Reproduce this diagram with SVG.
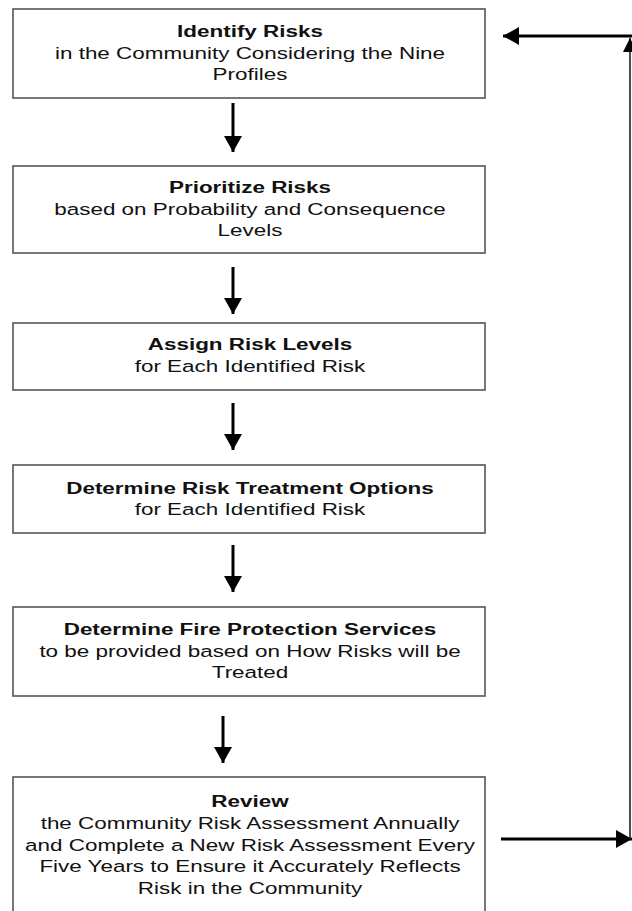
<svg xmlns="http://www.w3.org/2000/svg" width="632" height="911" viewBox="0 0 632 911">
  <defs>
    <style>
      .box { fill: #ffffff; stroke: #555555; stroke-width: 1.6; }
      .t { font-family: "Liberation Sans", Arial, sans-serif; font-size: 17px; fill: #111111; text-anchor: middle; }
      .b { font-weight: bold; }
      .arr { stroke: #000000; stroke-width: 3; fill: none; }
      .thin { stroke: #222222; stroke-width: 1.6; fill: none; }
    </style>
    <marker id="ah" viewBox="0 0 16 18" refX="16" refY="9" markerWidth="16" markerHeight="18" markerUnits="userSpaceOnUse" orient="auto">
      <path d="M0,0 L16,9 L0,18 Z" fill="#000000"/>
    </marker>
    <marker id="ahs" viewBox="0 0 14 14" refX="14" refY="7" markerWidth="14" markerHeight="14" markerUnits="userSpaceOnUse" orient="auto">
      <path d="M0,0 L14,7 L0,14 Z" fill="#000000"/>
    </marker>
  </defs>
  <rect width="632" height="911" fill="#ffffff"/>

  <g id="node-identify">
    <rect class="box" x="13" y="9" width="472" height="89"/>
    <g transform="translate(250,0) scale(1.32,1)">
      <text class="t b" x="0" y="37">Identify Risks</text>
      <text class="t" x="0" y="59">in the Community Considering the Nine</text>
      <text class="t" x="0" y="80">Profiles</text>
    </g>
  </g>

  <g id="node-prioritize">
    <rect class="box" x="13" y="166" width="472" height="87"/>
    <g transform="translate(250,0) scale(1.32,1)">
      <text class="t b" x="0" y="193">Prioritize Risks</text>
      <text class="t" x="0" y="215">based on Probability and Consequence</text>
      <text class="t" x="0" y="236">Levels</text>
    </g>
  </g>

  <g id="node-assign">
    <rect class="box" x="13" y="323" width="472" height="67"/>
    <g transform="translate(250,0) scale(1.32,1)">
      <text class="t b" x="0" y="350">Assign Risk Levels</text>
      <text class="t" x="0" y="372">for Each Identified Risk</text>
    </g>
  </g>

  <g id="node-treatment">
    <rect class="box" x="13" y="465" width="472" height="68"/>
    <g transform="translate(250,0) scale(1.32,1)">
      <text class="t b" x="0" y="494">Determine Risk Treatment Options</text>
      <text class="t" x="0" y="515">for Each Identified Risk</text>
    </g>
  </g>

  <g id="node-services">
    <rect class="box" x="13" y="607" width="472" height="89"/>
    <g transform="translate(250,0) scale(1.32,1)">
      <text class="t b" x="0" y="635">Determine Fire Protection Services</text>
      <text class="t" x="0" y="657">to be provided based on How Risks will be</text>
      <text class="t" x="0" y="678">Treated</text>
    </g>
  </g>

  <g id="node-review">
    <rect class="box" x="13" y="777" width="472" height="150"/>
    <g transform="translate(250,0) scale(1.32,1)">
      <text class="t b" x="0" y="807">Review</text>
      <text class="t" x="0" y="829">the Community Risk Assessment Annually</text>
      <text class="t" x="0" y="851">and Complete a New Risk Assessment Every</text>
      <text class="t" x="0" y="872">Five Years to Ensure it Accurately Reflects</text>
      <text class="t" x="0" y="894">Risk in the Community</text>
    </g>
  </g>

  <g id="connectors">
    <line class="arr" x1="233" y1="103" x2="233" y2="152" marker-end="url(#ah)"/>
    <line class="arr" x1="233" y1="267" x2="233" y2="314" marker-end="url(#ah)"/>
    <line class="arr" x1="233" y1="403" x2="233" y2="450" marker-end="url(#ah)"/>
    <line class="arr" x1="233" y1="545" x2="233" y2="592" marker-end="url(#ah)"/>
    <line class="arr" x1="223" y1="716" x2="223" y2="763" marker-end="url(#ah)"/>
    <line class="arr" x1="501" y1="839" x2="632" y2="839" marker-end="url(#ah)"/>
    <line class="thin" x1="630" y1="839" x2="630" y2="38" marker-end="url(#ahs)"/>
    <line class="arr" x1="632" y1="36" x2="503" y2="36" marker-end="url(#ah)"/>
  </g>
</svg>
